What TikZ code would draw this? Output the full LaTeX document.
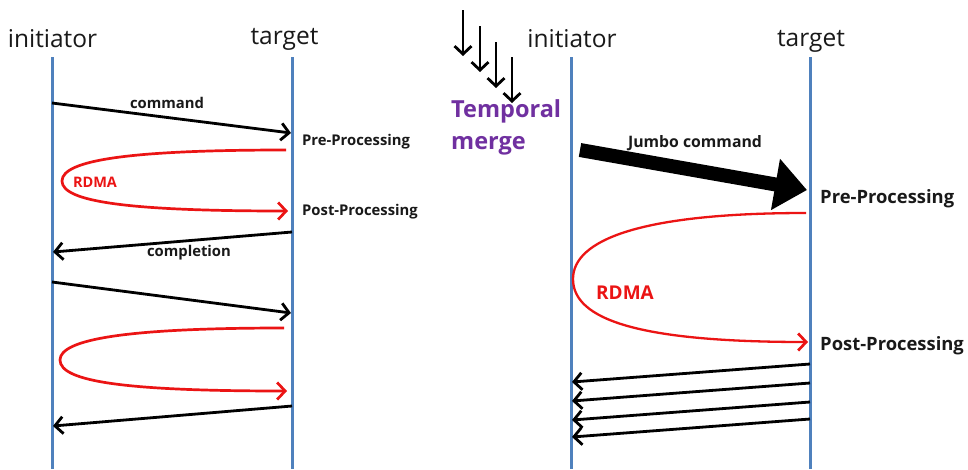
\documentclass[tikz,border=0pt]{standalone}
\usepackage{fontspec}
\setmainfont{Open Sans}
\usetikzlibrary{arrows.meta}
\definecolor{lifeblue}{RGB}{79,129,189}
\definecolor{rdmared}{RGB}{235,20,20}
\definecolor{tmpurple}{RGB}{112,48,160}
\definecolor{txt}{RGB}{25,25,25}
\begin{document}
\begin{tikzpicture}[x=1pt,y=-1pt,
  life/.style={draw=lifeblue,line width=3pt},
  msg/.style={draw=black,line width=2.8pt,-{Straight Barb[length=8pt,width=17pt,line width=2.8pt]}},
  rdma/.style={draw=rdmared,line width=2.7pt,-{Straight Barb[length=8pt,width=17pt,line width=2.7pt]}},
  jumbo/.style={draw=black,line width=14pt,-{Triangle[length=32pt,width=50pt]}},
  headlbl/.style={text=txt,inner sep=0pt,font=\fontsize{24.5}{28}\selectfont},
  smlbl/.style={text=txt,inner sep=0pt,font=\bfseries\fontsize{14.8}{17}\selectfont},
  biglbl/.style={text=txt,inner sep=0pt,font=\bfseries\fontsize{18.4}{22}\selectfont},
  rdmalbl/.style={text=rdmared,inner sep=0pt,font=\bfseries\fontsize{14.5}{17}\selectfont},
  tmlbl/.style={text=tmpurple,inner sep=0pt,align=left,font=\bfseries\fontsize{23.5}{32}\selectfont}]
\useasboundingbox[fill=white] (0,0) rectangle (968,469);

% ---------- left diagram ----------
\node[headlbl] (iniL) at (52.5,39) {initiator};
\node[headlbl] (tgtL) at (284.5,39) {target};
\coordinate (iLtop) at (52,57);
\coordinate (iLbot) at (52,469);
\coordinate (tLtop) at (292,57);
\coordinate (tLbot) at (292,469);
\draw[life] (iLtop) -- (iLbot);
\draw[life] (tLtop) -- (tLbot);

\coordinate (c1s) at (52,103);
\coordinate (c1e) at (291,133);
\draw[msg] (c1s) -- (c1e);
\node[smlbl] (cmdL) at (167,103) {command};
\node[smlbl,anchor=west] (preL) at (302,142) {Pre-Processing};

\coordinate (r1s) at (286,150);
\coordinate (r1m) at (62,181);
\coordinate (r1e) at (288,211);
\draw[rdma] (r1s) .. controls (130,150) and (62,160) .. (r1m)
               .. controls (62,202) and (130,211) .. (r1e);
\node[rdmalbl] (rdmaL) at (95,182) {RDMA};
\node[smlbl,anchor=west] (postL) at (302,212) {Post-Processing};

\coordinate (p1s) at (292,232);
\coordinate (p1e) at (53,252);
\draw[msg] (p1s) -- (p1e);
\node[smlbl] (cmpL) at (189,253) {completion};

\coordinate (c2s) at (52,282);
\coordinate (c2e) at (291,313);
\draw[msg] (c2s) -- (c2e);

\coordinate (r2s) at (284,328);
\coordinate (r2m) at (60,360);
\coordinate (r2e) at (287,391);
\draw[rdma] (r2s) .. controls (128,328) and (60,339) .. (r2m)
               .. controls (60,382) and (128,391) .. (r2e);

\coordinate (p2s) at (292,406);
\coordinate (p2e) at (53,426);
\draw[msg] (p2s) -- (p2e);

% ---------- temporal merge ----------
\foreach \i/\x/\yt in {1/463/10, 2/480/26, 3/496/42, 4/512/57} {
  \coordinate (dt\i) at (\x,\yt);
  \coordinate (db\i) at (\x,\yt+46);
  \draw[msg] (dt\i) -- (db\i);
}
\node[tmlbl,anchor=north west] (tm) at (451,99) {Temporal\\merge};

% ---------- right diagram ----------
\node[headlbl] (iniR) at (572,39) {initiator};
\node[headlbl] (tgtR) at (811,41) {target};
\coordinate (iRtop) at (571,57);
\coordinate (iRbot) at (571,469);
\coordinate (tRtop) at (810,57);
\coordinate (tRbot) at (810,469);
\draw[life] (iRtop) -- (iRbot);
\draw[life] (tRtop) -- (tRbot);

\coordinate (js) at (580,150);
\coordinate (je) at (807,190);
\draw[jumbo] (js) -- (je);
\node[smlbl,font=\bfseries\fontsize{15.8}{18}\selectfont] (jlbl) at (695,143) {Jumbo command};
\node[biglbl,anchor=west] (preR) at (820,199) {Pre-Processing};

\coordinate (r3s) at (806,213);
\coordinate (r3m) at (573,279);
\coordinate (r3e) at (808,342);
\draw[rdma,line width=2.3pt] (r3s) .. controls (640,213) and (573,240) .. (r3m)
               .. controls (573,320) and (640,342) .. (r3e);
\node[rdmalbl,font=\bfseries\fontsize{19}{22}\selectfont] (rdmaR) at (625,293) {RDMA};
\node[biglbl,anchor=west] (postR) at (820,346) {Post-Processing};

\foreach \i/\ys/\ye in {1/364/382, 2/383/401, 3/402/420, 4/419/437} {
  \coordinate (q\i s) at (810,\ys);
  \coordinate (q\i e) at (572,\ye);
  \draw[msg] (q\i s) -- (q\i e);
}
\end{tikzpicture}
\end{document}
